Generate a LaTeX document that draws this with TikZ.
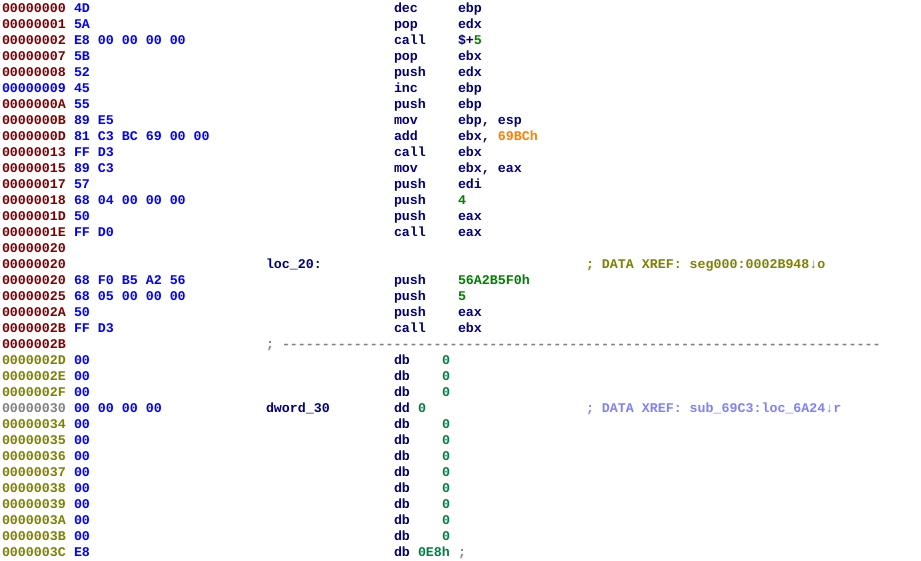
\documentclass[tikz,border=0pt]{standalone}
\usepackage{fontspec}
\newfontfamily\lst{Liberation Mono}[BoldFont={Liberation Mono Bold},Ligatures=ResetAll]
\definecolor{adrR}{HTML}{800000}
\definecolor{adrB}{HTML}{0000FF}
\definecolor{adrO}{HTML}{808000}
\definecolor{adrG}{HTML}{808080}
\definecolor{byt}{HTML}{0000FF}
\definecolor{ins}{HTML}{000080}
\definecolor{num}{HTML}{008000}
\definecolor{dbn}{HTML}{008040}
\definecolor{imm}{HTML}{FF8000}
\definecolor{xrA}{HTML}{808000}
\definecolor{xrB}{HTML}{8080FF}
\definecolor{sep}{HTML}{808080}
\tikzset{txt/.style={anchor=base west,inner sep=0pt,outer sep=0pt,font=\lst\bfseries\fontsize{13.3pt}{16pt}\selectfont}}
\newcommand\T[4]{\node[txt,text=#3] at ({#2*8pt+2pt},{-#1*16pt-12pt}) {#4};}
\newcommand\dashrun{\foreach\i in {1,...,75}{-\kern0pt}}
\begin{document}
\begin{tikzpicture}[x=1pt,y=1pt]
\useasboundingbox[fill=white] (0,0) rectangle (921,-560);
% addresses
\T{0}{0}{adrR}{00000000}
\T{1}{0}{adrR}{00000001}
\T{2}{0}{adrR}{00000002}
\T{3}{0}{adrR}{00000007}
\T{4}{0}{adrR}{00000008}
\T{5}{0}{adrB}{00000009}
\T{6}{0}{adrR}{0000000A}
\T{7}{0}{adrR}{0000000B}
\T{8}{0}{adrR}{0000000D}
\T{9}{0}{adrR}{00000013}
\T{10}{0}{adrR}{00000015}
\T{11}{0}{adrR}{00000017}
\T{12}{0}{adrR}{00000018}
\T{13}{0}{adrR}{0000001D}
\T{14}{0}{adrR}{0000001E}
\T{15}{0}{adrR}{00000020}
\T{16}{0}{adrR}{00000020}
\T{17}{0}{adrR}{00000020}
\T{18}{0}{adrR}{00000025}
\T{19}{0}{adrR}{0000002A}
\T{20}{0}{adrR}{0000002B}
\T{21}{0}{adrR}{0000002B}
\T{22}{0}{adrO}{0000002D}
\T{23}{0}{adrO}{0000002E}
\T{24}{0}{adrO}{0000002F}
\T{25}{0}{adrG}{00000030}
\T{26}{0}{adrO}{00000034}
\T{27}{0}{adrO}{00000035}
\T{28}{0}{adrO}{00000036}
\T{29}{0}{adrO}{00000037}
\T{30}{0}{adrO}{00000038}
\T{31}{0}{adrO}{00000039}
\T{32}{0}{adrO}{0000003A}
\T{33}{0}{adrO}{0000003B}
\T{34}{0}{adrO}{0000003C}
% bytes
\T{0}{9}{byt}{4D}
\T{1}{9}{byt}{5A}
\T{2}{9}{byt}{E8 00 00 00 00}
\T{3}{9}{byt}{5B}
\T{4}{9}{byt}{52}
\T{5}{9}{byt}{45}
\T{6}{9}{byt}{55}
\T{7}{9}{byt}{89 E5}
\T{8}{9}{byt}{81 C3 BC 69 00 00}
\T{9}{9}{byt}{FF D3}
\T{10}{9}{byt}{89 C3}
\T{11}{9}{byt}{57}
\T{12}{9}{byt}{68 04 00 00 00}
\T{13}{9}{byt}{50}
\T{14}{9}{byt}{FF D0}
\T{17}{9}{byt}{68 F0 B5 A2 56}
\T{18}{9}{byt}{68 05 00 00 00}
\T{19}{9}{byt}{50}
\T{20}{9}{byt}{FF D3}
\T{22}{9}{byt}{00}
\T{23}{9}{byt}{00}
\T{24}{9}{byt}{00}
\T{25}{9}{byt}{00 00 00 00}
\T{26}{9}{byt}{00}
\T{27}{9}{byt}{00}
\T{28}{9}{byt}{00}
\T{29}{9}{byt}{00}
\T{30}{9}{byt}{00}
\T{31}{9}{byt}{00}
\T{32}{9}{byt}{00}
\T{33}{9}{byt}{00}
\T{34}{9}{byt}{E8}
% mnemonics
\T{0}{49}{ins}{dec}\T{0}{57}{ins}{ebp}
\T{1}{49}{ins}{pop}\T{1}{57}{ins}{edx}
\T{2}{49}{ins}{call}\T{2}{57}{ins}{\$+\textcolor{num}{5}}
\T{3}{49}{ins}{pop}\T{3}{57}{ins}{ebx}
\T{4}{49}{ins}{push}\T{4}{57}{ins}{edx}
\T{5}{49}{ins}{inc}\T{5}{57}{ins}{ebp}
\T{6}{49}{ins}{push}\T{6}{57}{ins}{ebp}
\T{7}{49}{ins}{mov}\T{7}{57}{ins}{ebp, esp}
\T{8}{49}{ins}{add}\T{8}{57}{ins}{ebx, \textcolor{imm}{69BCh}}
\T{9}{49}{ins}{call}\T{9}{57}{ins}{ebx}
\T{10}{49}{ins}{mov}\T{10}{57}{ins}{ebx, eax}
\T{11}{49}{ins}{push}\T{11}{57}{ins}{edi}
\T{12}{49}{ins}{push}\T{12}{57}{num}{4}
\T{13}{49}{ins}{push}\T{13}{57}{ins}{eax}
\T{14}{49}{ins}{call}\T{14}{57}{ins}{eax}
\T{16}{33}{ins}{loc\_20:}
\T{16}{73}{xrA}{; DATA XREF: seg000:0002B948↓o}
\T{17}{49}{ins}{push}\T{17}{57}{num}{56A2B5F0h}
\T{18}{49}{ins}{push}\T{18}{57}{num}{5}
\T{19}{49}{ins}{push}\T{19}{57}{ins}{eax}
\T{20}{49}{ins}{call}\T{20}{57}{ins}{ebx}
\T{21}{33}{sep}{;}
\T{21}{35}{sep}{\dashrun}
\T{22}{49}{ins}{db}\T{22}{55}{dbn}{0}
\T{23}{49}{ins}{db}\T{23}{55}{dbn}{0}
\T{24}{49}{ins}{db}\T{24}{55}{dbn}{0}
\T{25}{33}{ins}{dword\_30}
\T{25}{49}{ins}{dd}\T{25}{52}{dbn}{0}
\T{25}{73}{xrB}{; DATA XREF: sub\_69C3:loc\_6A24↓r}
\T{26}{49}{ins}{db}\T{26}{55}{dbn}{0}
\T{27}{49}{ins}{db}\T{27}{55}{dbn}{0}
\T{28}{49}{ins}{db}\T{28}{55}{dbn}{0}
\T{29}{49}{ins}{db}\T{29}{55}{dbn}{0}
\T{30}{49}{ins}{db}\T{30}{55}{dbn}{0}
\T{31}{49}{ins}{db}\T{31}{55}{dbn}{0}
\T{32}{49}{ins}{db}\T{32}{55}{dbn}{0}
\T{33}{49}{ins}{db}\T{33}{55}{dbn}{0}
\T{34}{49}{ins}{db}\T{34}{52}{dbn}{0E8h}
\T{34}{57}{sep}{;}
\end{tikzpicture}
\end{document}
